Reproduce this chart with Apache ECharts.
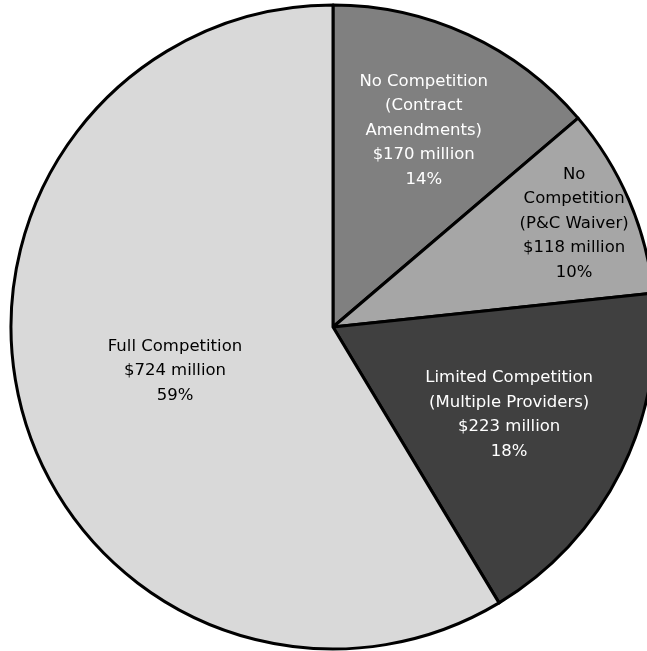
<!DOCTYPE html>
<html><head><meta charset="utf-8">
<script src="https://cdn.jsdelivr.net/npm/echarts@6/dist/echarts.min.js"></script>
<style>html,body{margin:0;padding:0;background:#fff}#c{width:647px;height:651px}</style>
</head><body><div id="c"></div>
<script>
const categories = ["No Competition\n(Contract\nAmendments)", "No\nCompetition\n(P&C Waiver)", "Limited Competition\n(Multiple Providers)", "Full Competition"];
const values = [170, 118, 223, 724];
const sliceColors = ['#808080', '#a6a6a6', '#404040', '#d9d9d9'];
const textColors = ['#ffffff', '#000000', '#ffffff', '#000000'];
const labelRadius = [0.66, 0.80, 0.60, 0.50];

const CX = 333, CY = 327, R = 322;
const total = values.reduce((a, b) => a + b, 0);

const chart = echarts.init(document.getElementById('c'), null, {renderer: 'canvas'});
chart.setOption({
  animation: false,
  backgroundColor: '#ffffff',
  series: [{
    type: 'pie',
    center: [CX, CY],
    radius: [0, R],
    startAngle: 90,
    clockwise: true,
    avoidLabelOverlap: false,
    emphasis: {disabled: true},
    itemStyle: {borderColor: '#000', borderWidth: 3},
    label: {
      show: true,
      position: 'inside',
      fontFamily: 'DejaVu Sans',
      fontSize: 16.5,
      lineHeight: 24.5,
      align: 'center',
      formatter: p => p.name + '\n$' + p.value + ' million\n' + Math.round(p.value / total * 100) + '%'
    },
    labelLine: {show: false},
    labelLayout: function (params) {
      const r = params.labelRect;
      const lx = r.x + r.width / 2, ly = r.y + r.height / 2;
      const f = labelRadius[params.dataIndex] / 0.5 - 1;
      return {dx: (lx - CX) * f, dy: (ly - CY) * f};
    },
    data: categories.map((c, i) => ({
      name: c, value: values[i],
      itemStyle: {color: sliceColors[i]},
      label: {color: textColors[i]}
    }))
  }]
});
</script></body></html>
